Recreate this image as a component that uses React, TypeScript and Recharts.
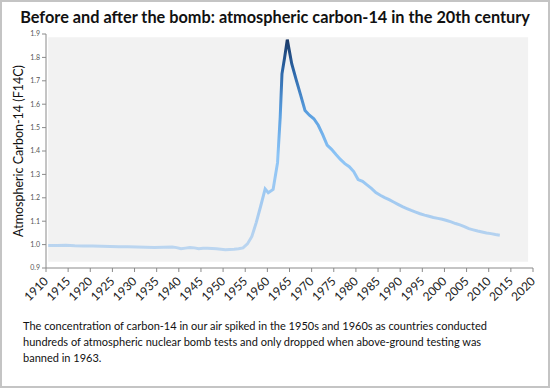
import { LineChart, Line, XAxis, YAxis, ReferenceArea } from "recharts";

// mid-year sample points (decimal years)
const years = [
  1910.5, 1912.5, 1914.5, 1916.5, 1918.5, 1920.5, 1922.5, 1924.5, 1926.5, 1928.5,
  1930.5, 1932.5, 1934.5, 1936.5, 1938.5, 1939.5, 1940.5, 1941.5, 1942.5, 1943.5,
  1944.5, 1945.5, 1946.5, 1947.5, 1948.5, 1949.5, 1950.5, 1951.5, 1952.5, 1953.5,
  1954.5, 1955.5, 1956.5, 1957.5, 1958.5, 1959.5, 1960.2, 1961.3, 1962.3, 1962.9,
  1963.3, 1963.9, 1964.5, 1965.5, 1966.5, 1967.5, 1968.5, 1969.5, 1970.5, 1971.5,
  1972.5, 1973.5, 1974.5, 1975.5, 1976.5, 1977.5, 1978.5, 1979.5, 1980.5, 1981.5,
  1982.5, 1983.5, 1984.5, 1985.5, 1986.5, 1987.5, 1988.5, 1989.5, 1990.5, 1991.5,
  1992.5, 1993.5, 1994.5, 1995.5, 1996.5, 1997.5, 1998.5, 1999.5, 2000.5, 2001.5,
  2002.5, 2003.5, 2004.5, 2005.5, 2006.5, 2007.5, 2008.5, 2009.5, 2010.5, 2011.5,
  2012.5
];

const f14c = [
  0.996, 0.996, 0.997, 0.995, 0.994, 0.994, 0.993, 0.992, 0.991, 0.991,
  0.99, 0.989, 0.988, 0.989, 0.99, 0.987, 0.982, 0.985, 0.988, 0.986,
  0.982, 0.984, 0.984, 0.983, 0.982, 0.98, 0.978, 0.979, 0.98, 0.982,
  0.986, 1.003, 1.035, 1.095, 1.165, 1.238, 1.222, 1.236, 1.35, 1.545,
  1.73, 1.8, 1.876, 1.773, 1.705, 1.64, 1.573, 1.553, 1.538, 1.51,
  1.47, 1.425, 1.407, 1.385, 1.364, 1.346, 1.333, 1.312, 1.278, 1.27,
  1.255, 1.24, 1.222, 1.211, 1.201, 1.192, 1.182, 1.172, 1.162, 1.154,
  1.146, 1.139, 1.132, 1.126, 1.121, 1.116, 1.112, 1.108, 1.103, 1.097,
  1.09, 1.084, 1.077, 1.068, 1.063, 1.058, 1.054, 1.05, 1.047, 1.043,
  1.04
];

const xTicks = [
  1910, 1915, 1920, 1925, 1930, 1935, 1940, 1945, 1950, 1955, 1960, 1965,
  1970, 1975, 1980, 1985, 1990, 1995, 2000, 2005, 2010, 2015, 2020
];
const yTicks = [0.9, 1.0, 1.1, 1.2, 1.3, 1.4, 1.5, 1.6, 1.7, 1.8, 1.9];

const data = years.map((year, i) => ({ year, value: f14c[i] }));

const FONT = "Lato, 'Noto Sans', sans-serif";

function YearTick(props: any) {
  const { x, y, payload } = props;
  return (
    <text
      x={x + 3}
      y={y + 8}
      transform={`rotate(-45 ${x + 3} ${y + 8})`}
      textAnchor="end"
      fontSize={12}
      fill="#222"
      fontFamily={FONT}
    >
      {payload.value}
    </text>
  );
}

export default function App() {
  return (
    <div
      style={{
        position: "absolute",
        left: 0,
        top: 0,
        width: 550,
        height: 388,
        boxSizing: "border-box",
        border: "2px solid #c4c4c4",
        background: "#fff",
        fontFamily: FONT
      }}
    >
      <div
        style={{
          position: "absolute",
          left: 0,
          top: 5,
          width: 546,
          textAlign: "center",
          fontWeight: 700,
          fontSize: 16.3,
          whiteSpace: "nowrap",
          color: "#111"
        }}
      >
        Before and after the bomb: atmospheric carbon-14 in the 20th century
      </div>
      <div style={{ position: "absolute", left: -2, top: -2 }}>
        <LineChart
          width={550}
          height={310}
          data={data}
          margin={{ top: 34, right: 17, left: 0, bottom: 0 }}
        >
          <defs>
            <linearGradient id="c14Stroke" x1="0" y1="0" x2="0" y2="1">
              <stop offset="0%" stopColor="#1b3a68" />
              <stop offset="15%" stopColor="#2c66a8" />
              <stop offset="35%" stopColor="#5a9fe0" />
              <stop offset="55%" stopColor="#8cc4f6" />
              <stop offset="80%" stopColor="#a6cbf0" />
              <stop offset="100%" stopColor="#bcd6f0" />
            </linearGradient>
          </defs>
          <ReferenceArea
            x1={1910.5}
            x2={2018.9}
            y1={0.927}
            y2={1.886}
            fill="#f2f2f2"
            fillOpacity={1}
            stroke="none"
            ifOverflow="visible"
          />
          <XAxis
            dataKey="year"
            type="number"
            domain={[1910, 2020]}
            ticks={xTicks}
            interval={0}
            height={42}
            tick={<YearTick />}
            tickSize={4}
            axisLine={{ stroke: "#8a8a8a" }}
            tickLine={{ stroke: "#8a8a8a" }}
          />
          <YAxis
            type="number"
            domain={[0.9, 1.9]}
            ticks={yTicks}
            width={46}
            tickSize={4}
            tickFormatter={(v: number) => v.toFixed(1)}
            tick={{ fontSize: 7, fill: "#555", fontFamily: FONT }}
            axisLine={{ stroke: "#8a8a8a" }}
            tickLine={{ stroke: "#8a8a8a" }}
            label={{
              value: "Atmospheric Carbon-14 (F14C)",
              angle: -90,
              position: "insideLeft",
              dx: 14,
              dy: 0,
              style: { fontSize: 12.5, fill: "#111", fontFamily: FONT, textAnchor: "middle" }
            }}
          />
          <Line
            type="linear"
            dataKey="value"
            stroke="url(#c14Stroke)"
            strokeWidth={3}
            dot={false}
            activeDot={false}
            isAnimationActive={false}
          />
        </LineChart>
      </div>
      <div
        style={{
          position: "absolute",
          left: 21,
          top: 316,
          fontSize: 11,
          lineHeight: "16px",
          whiteSpace: "nowrap",
          color: "#111"
        }}
      >
        The concentration of carbon-14 in our air spiked in the 1950s and 1960s as countries conducted
        <br />
        hundreds of atmospheric nuclear bomb tests and only dropped when above-ground testing was
        <br />
        banned in 1963.
      </div>
    </div>
  );
}
